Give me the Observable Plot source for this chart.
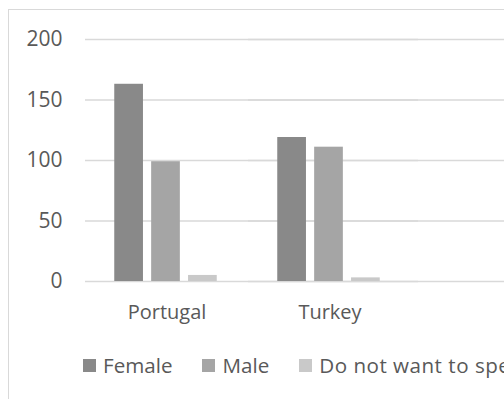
<!DOCTYPE html>
<html>
<head>
<meta charset="utf-8">
<script src="https://cdn.jsdelivr.net/npm/d3@7"></script>
<script src="https://cdn.jsdelivr.net/npm/@observablehq/plot@0.6"></script>
<style>
  html, body { margin: 0; padding: 0; background: #ffffff; }
  #wrap { position: relative; width: 504px; height: 399px; overflow: hidden;
          font-family: "Open Sans", sans-serif; color: #595959; background: #ffffff; }
  #frame { position: absolute; left: 8px; top: 9px; width: 700px; height: 600px;
           border-left: 1.5px solid #d9d9d9; border-top: 1.5px solid #d9d9d9; box-sizing: border-box; }
  #chart { position: absolute; left: 0; top: 0; width: 574px; }
  #chart svg { max-width: none !important; }
  #chart svg text { font-size: 20px !important; font-family: "Open Sans", sans-serif; fill: #595959; }
  #chart svg g[aria-label="y-axis tick label"] text { font-size: 21px !important; }
  #legend { position: absolute; left: 83px; top: 351px; display: flex; align-items: center;
            white-space: nowrap; font-size: 20.6px; line-height: 28px; color: #595959; }
  #legend .item { display: flex; align-items: center; margin-right: 30px; }
  #legend .item:last-child span:last-child { letter-spacing: 0.5px; }
  #legend .sw { width: 13px; height: 13px; margin-right: 7px; display: inline-block; }
</style>
</head>
<body>
<div id="wrap">
  <div id="frame"></div>
  <div id="chart"></div>
  <div id="legend"></div>
</div>
<script>
// ---- data ----
const countries = ["Portugal", "Turkey"];
const seriesNames = ["Female", "Male", "Do not want to speak"];
const female = [163, 119];
const male = [99, 111];
const noAnswer = [5, 3];
const yTicks = [0, 50, 100, 150, 200];
const colors = ["#898989", "#a5a5a5", "#c9c9c9"];

const seriesValues = [female, male, noAnswer];
const rows = countries.flatMap((c, i) =>
  seriesNames.map((s, j) => ({country: c, series: s, value: seriesValues[j][i]}))
);

function build(gridMark) {
  return Plot.plot({
    width: 574,
    height: 331,
    marginLeft: 85,
    marginRight: 0,
    marginTop: 39,
    marginBottom: 50,
    style: {fontFamily: "Open Sans, sans-serif", fontSize: "20px", color: "#595959",
            background: "transparent", overflow: "visible", maxWidth: "none"},
    facet: {data: rows, x: "country"},
    fx: {domain: [...countries, ""], padding: 0, round: false, axis: "bottom", tickSize: 0, tickPadding: 23, label: null},
    x: {domain: seriesNames, axis: null, round: false, paddingInner: 0.222, paddingOuter: 0.82},
    y: {domain: [0, 200], ticks: yTicks, tickSize: 0, tickPadding: 23, label: null},
    color: {domain: seriesNames, range: colors},
    marks: [
      gridMark,
      Plot.barY(rows, {x: "series", y: "value", fill: "series", dx: -1})
    ]
  });
}

let chart;
try {
  chart = build(Plot.ruleY(yTicks, {stroke: "#d9d9d9", strokeWidth: 1.3, facet: "super"}));
} catch (e) {
  chart = build(Plot.ruleY(yTicks, {stroke: "#d9d9d9", strokeWidth: 1.3, insetRight: -170}));
}
document.getElementById("chart").appendChild(chart);

const legend = document.getElementById("legend");
seriesNames.forEach((s, i) => {
  const item = document.createElement("span");
  item.className = "item";
  const sw = document.createElement("span");
  sw.className = "sw";
  sw.style.background = colors[i];
  const label = document.createElement("span");
  label.textContent = s;
  item.appendChild(sw);
  item.appendChild(label);
  legend.appendChild(item);
});
</script>
</body>
</html>
